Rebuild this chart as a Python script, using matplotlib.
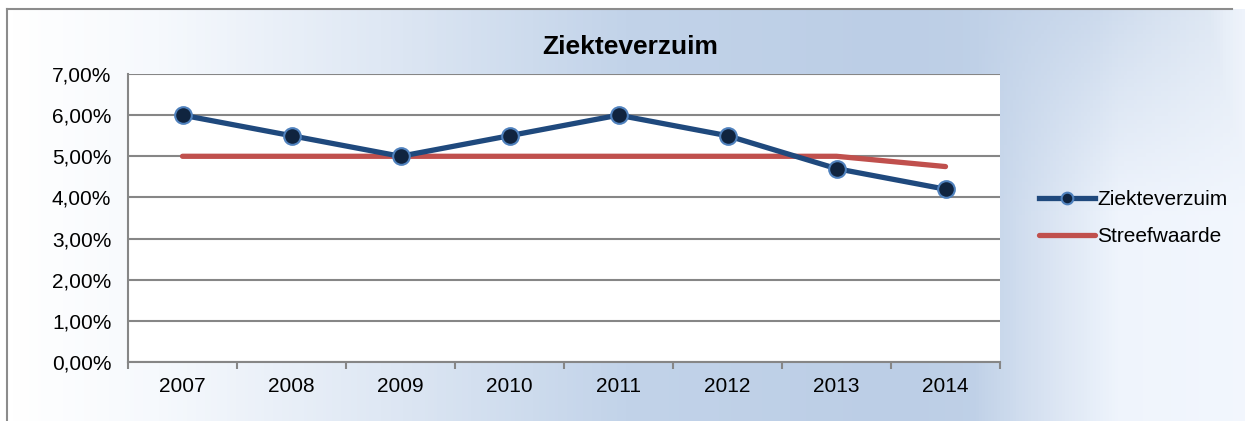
import numpy as np
import matplotlib.pyplot as plt
from matplotlib.colors import LinearSegmentedColormap
from matplotlib.ticker import FuncFormatter, FixedLocator

plt.rcParams['font.family'] = ['Liberation Sans', 'DejaVu Sans']

years = ['2007', '2008', '2009', '2010', '2011', '2012', '2013', '2014']
ziekteverzuim = [6.0, 5.5, 5.0, 5.5, 6.0, 5.5, 4.7, 4.2]
streefwaarde = [5.0, 5.0, 5.0, 5.0, 5.0, 5.0, 5.0, 4.75]

W, H = 1245, 421
fig = plt.figure(figsize=(W / 100, H / 100), dpi=100)

# background gradient of the chart area
bg = fig.add_axes([0, 0, 1, 1], zorder=-10)
bg.set_xlim(0, W)
bg.set_ylim(H, 0)
bg.axis('off')
cmap = LinearSegmentedColormap.from_list('bg', [
    (0.0, '#ffffff'), (0.12, '#f6f9fd'), (0.3, '#dfe8f4'),
    (0.5, '#c2d3e9'), (0.72, '#bccee6'), (0.88, '#c4d4e9'),
    (1.0, '#dfe8f3')])
gx = np.linspace(0, 1, 400)
gy = np.linspace(0, 1, 100)
GX, GY = np.meshgrid(gx, gy)
rgb = cmap(GX)[..., :3]
# whiten the lower right part
wmask = np.clip((GX - 0.78) / 0.12, 0, 1) * np.clip(GY * 1.6 + 0.2, 0, 1)
wmask = np.maximum(wmask, np.clip((GX - 0.96) / 0.04, 0, 1) * 0.8)
rgb = rgb * (1 - 0.88 * wmask[..., None]) + 0.88 * wmask[..., None] * np.array([0.96, 0.975, 1.0])
bg.imshow(rgb, extent=[7, W, H, 9], aspect='auto')
bg.plot([7, 7], [9, H], color='#8c8c8c', lw=1.5)
bg.plot([7, 1232], [9, 9], color='#8c8c8c', lw=1.5)

ax = fig.add_axes([128 / W, 1 - 362 / H, (1000 - 128) / W, (362 - 74) / H])
x = np.arange(len(years))
ax.set_xlim(-0.5, len(years) - 0.5)
ax.set_ylim(0, 7)
ax.set_facecolor('white')

ax.set_yticks(np.arange(0, 8, 1))
ax.yaxis.set_major_formatter(FuncFormatter(lambda v, p: f'{v:.2f}%'.replace('.', ',')))
ax.grid(axis='y', color='#868686', lw=1.5, zorder=0)
ax.set_xticks(x)
ax.set_xticklabels(years)
ax.xaxis.set_minor_locator(FixedLocator(np.arange(-0.5, len(years), 1)))
ax.tick_params(axis='x', which='major', length=0, pad=11, labelsize=15)
ax.tick_params(axis='x', which='minor', length=5, color='#868686', width=1.5, direction='out')
ax.tick_params(axis='y', length=0, pad=12, labelsize=15)
for s in ['top', 'right']:
    ax.spines[s].set_visible(False)
for s in ['left', 'bottom']:
    ax.spines[s].set_color('#868686')
    ax.spines[s].set_linewidth(1.5)

ax.plot(x, streefwaarde, color='#c0504d', lw=3.8, solid_capstyle='round',
        label='Streefwaarde', zorder=3)
ax.plot(x, ziekteverzuim, color='#1f497d', lw=3.8, marker='o', markersize=12,
        markerfacecolor='#10243f', markeredgecolor='#4f81bd', markeredgewidth=1.5,
        label='Ziekteverzuim', zorder=4)

h, l = ax.get_legend_handles_labels()
fig.legend(h[::-1], l[::-1], loc='center left', bbox_to_anchor=(1020 / W, 1 - 218 / H),
           frameon=False, fontsize=15, handlelength=2.7, handletextpad=0.1,
           labelspacing=0.85, markerscale=0.7)

fig.text(630 / W, 1 - 47 / H, 'Ziekteverzuim', ha='center', va='center',
         fontsize=19, fontweight='bold')

fig.savefig('out.png', dpi=100)
